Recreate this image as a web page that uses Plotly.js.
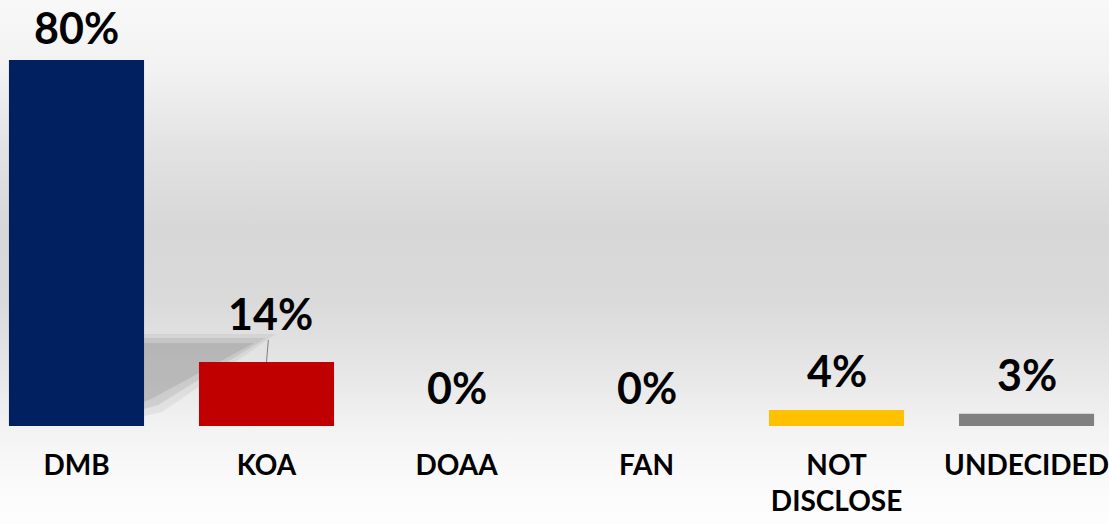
<!DOCTYPE html>
<html>
<head>
<meta charset="utf-8">
<script src="https://cdn.plot.ly/plotly-3.0.1.min.js"></script>
<style>
  html, body { margin: 0; padding: 0; }
  body {
    width: 1109px; height: 524px; overflow: hidden;
    background: linear-gradient(to bottom, #f8f8f8 0px, #f2f2f2 70px, #e2e2e2 150px, #d7d7d7 230px, #dadada 300px, #e6e6e6 370px, #f3f3f3 430px, #fafafa 480px, #fdfdfd 524px);
  }
  #chart { width: 1109px; height: 524px; }
</style>
</head>
<body>
<div id="chart"></div>
<script>
const categories = ["DMB", "KOA", "DOAA", "FAN", "NOT<br>DISCLOSE", "UNDECIDED"];
const values = [80, 14, 0, 0, 3.5, 2.7];
const valueLabels = ["80%", "14%", "0%", "0%", "4%", "3%"];
const barColors = ["#002060", "#C00000", "#A5A5A5", "#5B9BD5", "#FFC000", "#808080"];

const W = 1109, H = 524, MB = 98;
const plotH = H - MB;
const yMax = 93.1;
const pxPerUnit = plotH / yMax;

const labelFont = { family: "Lato, 'Open Sans', sans-serif", size: 43, color: "#000000", weight: 700 };

const annotations = categories.map((c, i) => {
  const isKoa = i === 1;
  const barTop = plotH - values[i] * pxPerUnit;
  return {
    x: c, y: values[i], xref: "x", yref: "y",
    text: "<b>" + valueLabels[i] + "</b>",
    font: labelFont,
    showarrow: isKoa,
    arrowhead: 0, arrowwidth: 1, arrowcolor: "#808080",
    ax: isKoa ? 4 : 0, ay: isKoa ? -48 : 0,
    yanchor: "middle", xanchor: "center",
    borderpad: 0,
    yshift: isKoa ? 0 : Math.min(39, barTop - 28)
  };
});

// decorative drop shadow behind the first bar (pixel polygon -> paper coords)
function shadowPath(pts) {
  return pts.map((p, k) => (k ? "L" : "M") + (p[0] / W).toFixed(4) + "," + ((plotH - p[1]) / plotH).toFixed(4)).join(" ") + " Z";
}
const shadowLayers = [
  { pts: [[144, 334], [276, 334], [162, 412], [144, 416]], c: "rgba(130,130,130,0.12)" },
  { pts: [[144, 338], [266, 338], [158, 405], [144, 409]], c: "rgba(130,130,130,0.18)" },
  { pts: [[144, 343], [254, 343], [153, 398], [144, 402]], c: "rgba(130,130,130,0.24)" }
];
const shapes = shadowLayers.map(s => ({
  type: "path", xref: "paper", yref: "paper", layer: "below",
  path: shadowPath(s.pts), fillcolor: s.c, line: { width: 0 }
}));

const trace = {
  type: "bar",
  x: categories,
  y: values,
  marker: { color: barColors, line: { width: 0 } },
  hoverinfo: "skip"
};

const layout = {
  width: W, height: H,
  margin: { l: 0, r: 0, t: 0, b: MB, pad: 0 },
  paper_bgcolor: "rgba(0,0,0,0)",
  plot_bgcolor: "rgba(0,0,0,0)",
  showlegend: false,
  bargap: 0.289,
  xaxis: {
    type: "category",
    range: [-0.4026, 5.434],
    showgrid: false, zeroline: false, showline: false,
    ticks: "", ticklabelstandoff: 20,
    tickfont: { family: "Lato, 'Open Sans', sans-serif", size: 28, color: "#000000", weight: 700 },
    fixedrange: true
  },
  yaxis: {
    range: [0, yMax],
    showgrid: false, zeroline: false, showline: false,
    showticklabels: false, ticks: "",
    fixedrange: true
  },
  shapes: shapes,
  annotations: annotations
};

Plotly.newPlot("chart", [trace], layout, { staticPlot: true, displayModeBar: false });
</script>
</body>
</html>
